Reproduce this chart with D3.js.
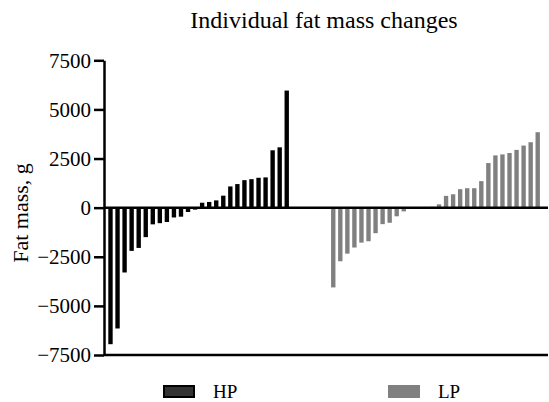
<!DOCTYPE html>
<html>
<head>
<meta charset="utf-8">
<script src="https://cdn.jsdelivr.net/npm/d3@7"></script>
<style>
  body { margin: 0; background: #fff; }
  text { font-family: "Liberation Serif", "Times New Roman", serif; fill: #000; }
</style>
</head>
<body>
<svg id="chart" width="549" height="402"></svg>
<script>
// individual fat mass changes (g)
var hpValues = [-6950, -6150, -3300, -2200, -2050, -1500, -850, -790, -730, -500, -460, -220, -100,
                250, 290, 370, 610, 1080, 1200, 1400, 1450, 1520, 1540, 2920, 3070, 5960];
var lpValues = [-4060, -2730, -2340, -2030, -1780, -1710, -1300, -840, -770, -440, -190,
                -40, -20, 20, 40,
                170, 600, 680, 940, 990, 990, 1350, 2270, 2660, 2710, 2780, 2940, 3160, 3330, 3840];
var groups = ["HP", "LP"];
var groupColors = ["#000000", "#808080"];
var yTicks = [-7500, -5000, -2500, 0, 2500, 5000, 7500];

var svg = d3.select("#chart");
var axisX = 104, rightX = 548, topY = 60.3, bottomY = 355;

var y = d3.scaleLinear().domain([-7500, 7500]).range([bottomY, topY]);

// slot index along x; LP group starts after a gap
var lpStart = 31.6;
var x = d3.scaleLinear().domain([-0.92, 62.06]).range([axisX, rightX]);
var barW = (x(1) - x(0)) * 0.62;

var bars = [];
hpValues.forEach(function(v, i) { bars.push({g: 0, slot: i, v: v}); });
lpValues.forEach(function(v, i) { bars.push({g: 1, slot: lpStart + i, v: v}); });

svg.selectAll(".bar")
  .data(bars)
  .enter().append("rect")
  .attr("class", "bar")
  .attr("x", function(d) { return x(d.slot) - barW / 2; })
  .attr("y", function(d) { return y(Math.max(0, d.v)); })
  .attr("width", barW)
  .attr("height", function(d) { return Math.abs(y(d.v) - y(0)); })
  .attr("fill", function(d) { return groupColors[d.g]; });

// zero line
svg.append("line")
  .attr("x1", axisX).attr("x2", rightX)
  .attr("y1", y(0)).attr("y2", y(0))
  .attr("stroke", "#000").attr("stroke-width", 2.5);

// bottom line
svg.append("line")
  .attr("x1", axisX).attr("x2", rightX)
  .attr("y1", y(-7500)).attr("y2", y(-7500))
  .attr("stroke", "#000").attr("stroke-width", 2.5);

var yAxis = svg.append("g")
  .attr("transform", "translate(" + axisX + ",0)")
  .call(d3.axisLeft(y).tickValues(yTicks).tickFormat(d3.format("d"))
        .tickSize(10).tickSizeOuter(0).tickPadding(3));
yAxis.attr("font-family", null).attr("font-size", null);
yAxis.select(".domain").attr("stroke-width", 2.5);
yAxis.selectAll(".tick line").attr("stroke-width", 2.5);
yAxis.selectAll(".tick text")
  .attr("font-family", "Liberation Serif")
  .attr("font-size", 21);

svg.append("text")
  .attr("x", 324).attr("y", 28)
  .attr("text-anchor", "middle")
  .style("font-size", "24px")
  .text("Individual fat mass changes");

svg.append("text")
  .attr("transform", "translate(28,213) rotate(-90)")
  .attr("text-anchor", "middle")
  .style("font-size", "22px")
  .text("Fat mass, g");

// legend
var legX = [163, 388];
var leg = svg.selectAll(".legend")
  .data(groups)
  .enter().append("g")
  .attr("class", "legend")
  .attr("transform", function(d, i) { return "translate(" + legX[i] + ",385)"; });
leg.append("rect")
  .attr("x", function(d, i) { return i === 0 ? 1 : 0; })
  .attr("y", function(d, i) { return i === 0 ? 1 : 0; })
  .attr("width", function(d, i) { return i === 0 ? 30 : 32; })
  .attr("height", function(d, i) { return i === 0 ? 11 : 13; })
  .attr("fill", function(d, i) { return i === 0 ? "#333" : groupColors[1]; })
  .attr("stroke", function(d, i) { return i === 0 ? "#000" : "none"; })
  .attr("stroke-width", 2);
leg.append("text")
  .attr("x", 50)
  .attr("y", 13)
  .style("font-size", "19px")
  .text(function(d) { return d; });
</script>
</body>
</html>
